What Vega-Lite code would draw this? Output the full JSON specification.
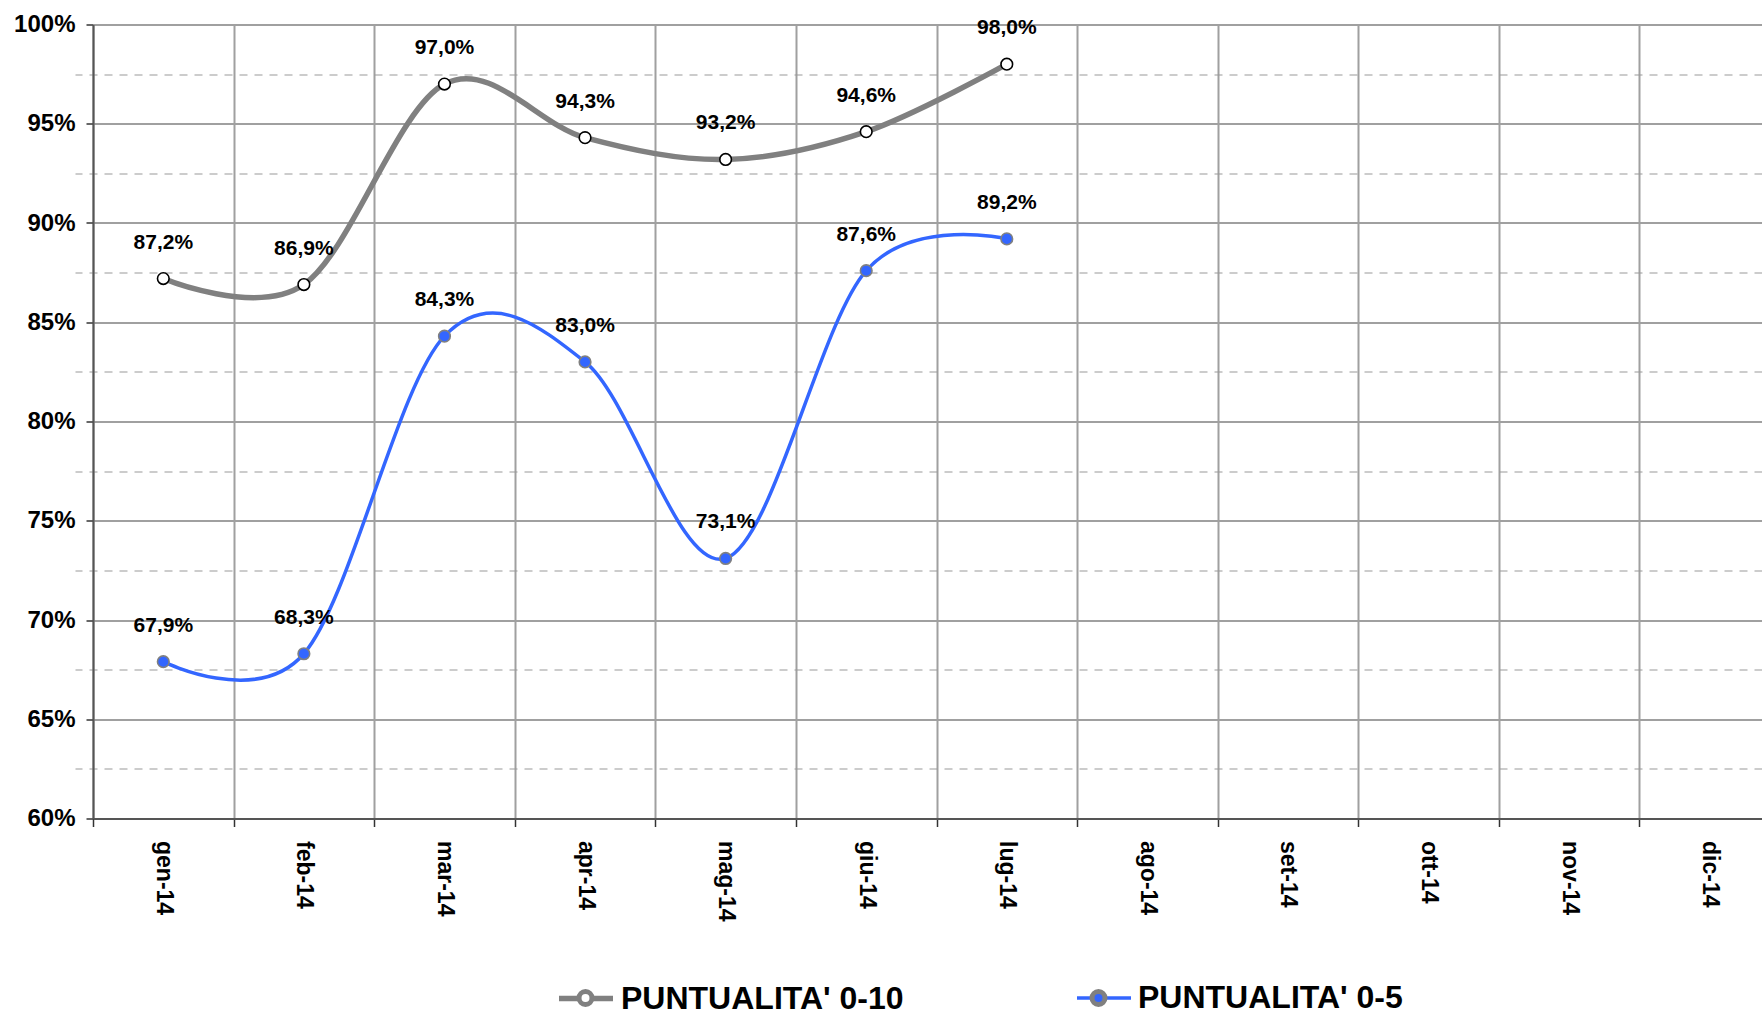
{
  "$schema": "https://vega.github.io/schema/vega-lite/v6.json",
  "width": 1669,
  "height": 794,
  "autosize": {"type": "none"},
  "padding": {"left": 93, "top": 24.5, "right": 0, "bottom": 194.5},
  "background": "white",
  "config": {
    "view": {"stroke": null},
    "font": "Liberation Sans",
    "locale": {"number": {"decimal": ",", "thousands": ".", "grouping": [3], "currency": ["", " €"]}}
  },
  "data": {
    "values": [
      {"month": "gen-14", "series": "PUNTUALITA' 0-10", "value": 0.872},
      {"month": "feb-14", "series": "PUNTUALITA' 0-10", "value": 0.869},
      {"month": "mar-14", "series": "PUNTUALITA' 0-10", "value": 0.970},
      {"month": "apr-14", "series": "PUNTUALITA' 0-10", "value": 0.943},
      {"month": "mag-14", "series": "PUNTUALITA' 0-10", "value": 0.932},
      {"month": "giu-14", "series": "PUNTUALITA' 0-10", "value": 0.946},
      {"month": "lug-14", "series": "PUNTUALITA' 0-10", "value": 0.980},
      {"month": "gen-14", "series": "PUNTUALITA' 0-5", "value": 0.679},
      {"month": "feb-14", "series": "PUNTUALITA' 0-5", "value": 0.683},
      {"month": "mar-14", "series": "PUNTUALITA' 0-5", "value": 0.843},
      {"month": "apr-14", "series": "PUNTUALITA' 0-5", "value": 0.830},
      {"month": "mag-14", "series": "PUNTUALITA' 0-5", "value": 0.731},
      {"month": "giu-14", "series": "PUNTUALITA' 0-5", "value": 0.876},
      {"month": "lug-14", "series": "PUNTUALITA' 0-5", "value": 0.892}
    ]
  },
  "encoding": {
    "x": {
      "field": "month",
      "type": "ordinal",
      "sort": null,
      "scale": {
        "domain": ["gen-14", "feb-14", "mar-14", "apr-14", "mag-14", "giu-14", "lug-14", "ago-14", "set-14", "ott-14", "nov-14", "dic-14"],
        "range": [0, 1687],
        "paddingInner": 0,
        "paddingOuter": 0
      },
      "axis": {
        "title": null,
        "labelAngle": 90,
        "labelFont": "Liberation Sans",
        "labelFontSize": 23,
        "labelFontWeight": "bold",
        "labelColor": "black",
        "labelPadding": 14,
        "tickBand": "extent",
        "tickSize": 8,
        "tickColor": "#333333",
        "tickWidth": 1.5,
        "domainColor": "#555555",
        "domainWidth": 2,
        "grid": true,
        "gridColor": "#a0a0a0",
        "gridWidth": 2
      }
    }
  },
  "resolve": {"axis": {"y": "independent"}},
  "layer": [
    {
      "mark": {"type": "line", "interpolate": "cardinal"},
      "encoding": {
        "y": {
          "field": "value",
          "type": "quantitative",
          "scale": {"domain": [0.6, 1.0], "nice": false, "zero": false},
          "axis": {
            "orient": "right",
            "values": [0.625, 0.675, 0.725, 0.775, 0.825, 0.875, 0.925, 0.975],
            "labels": false,
            "ticks": false,
            "domain": false,
            "title": null,
            "grid": true,
            "gridColor": "#999999",
            "gridWidth": 1,
            "gridDash": [8, 7]
          }
        },
        "stroke": {
          "field": "series",
          "type": "nominal",
          "scale": {"domain": ["PUNTUALITA' 0-10", "PUNTUALITA' 0-5"], "range": ["#808080", "#3366ff"]},
          "legend": {
            "title": null,
            "orient": "none",
            "direction": "horizontal",
            "legendX": 463,
            "legendY": 944,
            "padding": 0,
            "symbolType": "stroke",
            "symbolSize": 2916,
            "symbolStrokeWidth": 5,
            "labelFont": "Liberation Sans",
            "labelFontSize": 32,
            "labelFontWeight": "bold",
            "labelColor": "black",
            "labelOffset": 5,
            "columnPadding": 166,
            "labelLimit": 600,
            "encode": {
              "symbols": {"update": {"strokeWidth": {"signal": "datum.value == \"PUNTUALITA' 0-10\" ? 7 : 4"}}}
            }
          }
        },
        "strokeWidth": {
          "field": "series",
          "type": "nominal",
          "scale": {"domain": ["PUNTUALITA' 0-10", "PUNTUALITA' 0-5"], "range": [5.5, 3.5]},
          "legend": null
        }
      }
    },
    {
      "mark": {"type": "point", "shape": "circle", "filled": true, "size": 135, "strokeWidth": 1.6, "opacity": 1},
      "encoding": {
        "y": {
          "field": "value",
          "type": "quantitative",
          "axis": {
            "orient": "left",
            "title": null,
            "values": [0.6, 0.65, 0.7, 0.75, 0.8, 0.85, 0.9, 0.95, 1.0],
            "format": ".0%",
            "labelFont": "Liberation Sans",
            "labelFontSize": 24,
            "labelFontWeight": "bold",
            "labelColor": "black",
            "labelPadding": 11,
            "tickSize": 7,
            "tickColor": "#333333",
            "tickWidth": 1.5,
            "domainColor": "#555555",
            "domainWidth": 2,
            "grid": true,
            "gridColor": "#a0a0a0",
            "gridWidth": 2
          }
        },
        "fill": {
          "field": "series",
          "type": "nominal",
          "scale": {"range": ["#ffffff", "#3366ff"]},
          "legend": {
            "title": null,
            "orient": "none",
            "direction": "horizontal",
            "legendX": 463,
            "legendY": 944,
            "padding": 0,
            "symbolType": "M-0.24,0A0.24,0.24 0 1,1 0.24,0A0.24,0.24 0 1,1 -0.24,0Z",
            "symbolSize": 2916,
            "symbolStrokeWidth": 5,
            "symbolOpacity": 1,
            "labelFont": "Liberation Sans",
            "labelFontSize": 32,
            "labelFontWeight": "bold",
            "labelColor": "transparent",
            "labelOffset": 5,
            "columnPadding": 166,
            "labelLimit": 600,
            "encode": {
              "symbols": {"update": {
                "strokeWidth": {"value": 1.6},
                "stroke": {"signal": "datum.value == \"PUNTUALITA' 0-10\" ? 'black' : '#808080'"}
              }}
            }
          }
        },
        "stroke": {
          "condition": {"test": "datum.series == \"PUNTUALITA' 0-10\"", "value": "black"},
          "value": "#808080"
        }
      }
    },
    {
      "mark": {"type": "text", "dy": -36, "fontSize": 21, "fontWeight": "bold", "font": "Liberation Sans", "color": "black", "baseline": "middle"},
      "encoding": {
        "y": {"field": "value", "type": "quantitative", "axis": null},
        "text": {"field": "value", "type": "quantitative", "format": ".1%"}
      }
    }
  ]
}
